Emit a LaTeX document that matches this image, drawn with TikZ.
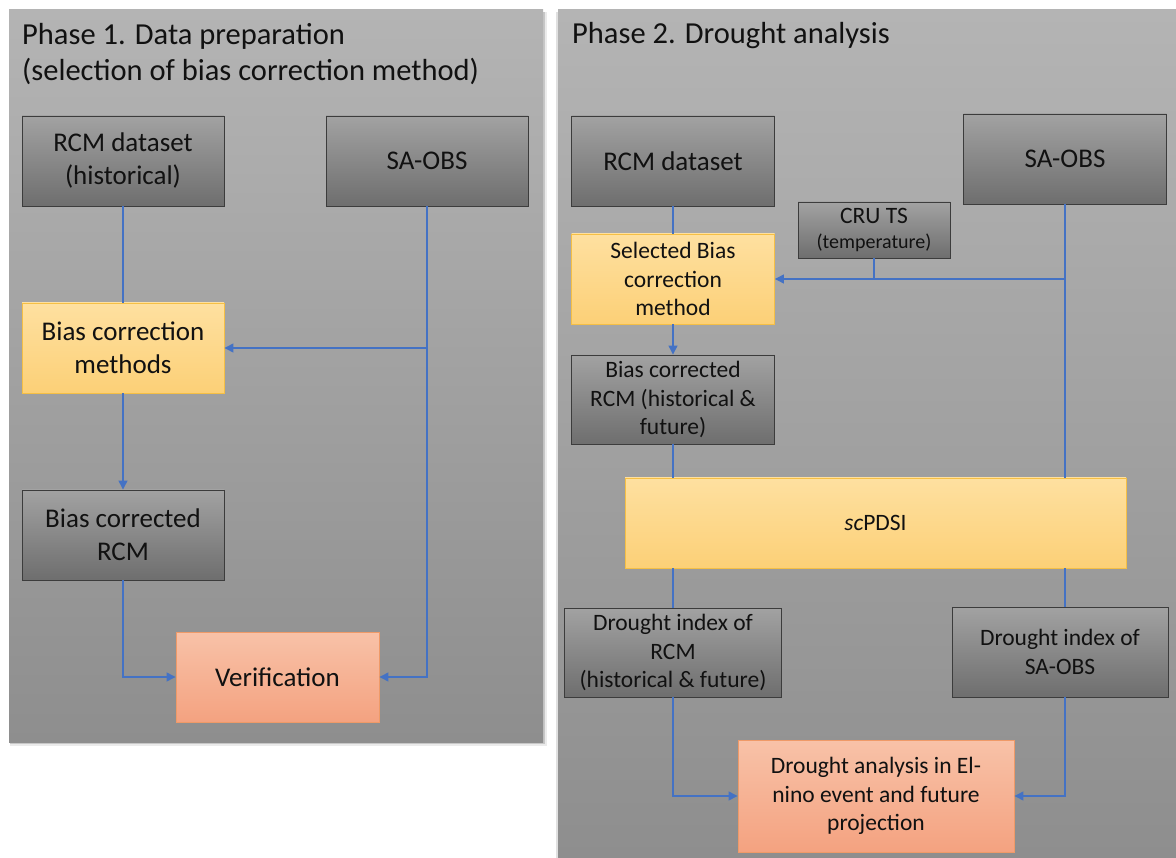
\documentclass[tikz,border=0pt]{standalone}
\usepackage{fontspec}
\setmainfont{Carlito}
\usetikzlibrary{arrows.meta}
\definecolor{gtop}{HTML}{A2A2A2}
\definecolor{gbot}{HTML}{6E6E6E}
\definecolor{gedge}{HTML}{3C3C3C}
\definecolor{ytop}{HTML}{FEE0A0}
\definecolor{ybot}{HTML}{FCD077}
\definecolor{yedge}{HTML}{F5BF45}
\definecolor{otop}{HTML}{F8C2A8}
\definecolor{obot}{HTML}{F4A280}
\definecolor{oedge}{HTML}{EF9A68}
\definecolor{ptop}{HTML}{B4B4B4}
\definecolor{pbot}{HTML}{8E8E8E}
\definecolor{lnblue}{HTML}{4472C4}
\definecolor{txt}{HTML}{111111}
\tikzset{
  box/.style={line width=0.9pt, align=center, inner sep=0pt, text=txt},
  gbox/.style={box, draw=gedge, top color=gtop, bottom color=gbot},
  ybox/.style={box, draw=yedge, top color=ytop, bottom color=ybot},
  obox/.style={box, draw=oedge, top color=otop, bottom color=obot},
  big/.style={font=\fontsize{27}{33}\selectfont},
  mid/.style={font=\fontsize{23.5}{28.5}\selectfont},
  ttl/.style={anchor=base west, text=txt, font=\fontsize{30.5}{36}\selectfont, inner sep=0pt},
  ln/.style={draw=lnblue, line width=1.3pt},
  arr/.style={ln, -{Triangle[length=9pt,width=9pt]}},
  panel/.style={top color=ptop, bottom color=pbot, draw=none},
}
\begin{document}
\begin{tikzpicture}[x=1pt,y=-1pt]
\useasboundingbox (0,0) rectangle (1176,858);
\fill[white] (0,0) rectangle (1176,858);
% panels
\fill[black,opacity=0.08] (10,12) rectangle (547,746);
\fill[black,opacity=0.15] (10,12) rectangle (545,744);
\fill[black,opacity=0.12] (556,12) rectangle (1176,858);
\path[panel] (9,10) rectangle (543,742);
\path[panel] (558,10) rectangle (1176,858);
\node[ttl] (t1a) at (22,45) {Phase 1. Data preparation};
\node[ttl] (t1b) at (22,81) {(selection of bias correction method)};
\node[ttl] (t2) at (572,44) {Phase 2. Drought analysis};
% panel 1 boxes
\node[gbox,big,minimum width=202pt,minimum height=90pt] (rcm1) at (123,161) {RCM dataset\\(historical)};
\node[gbox,big,minimum width=202pt,minimum height=90pt] (sa1) at (427,161) {SA-OBS};
\node[ybox,big,minimum width=202pt,minimum height=90pt] (bcm) at (123,348) {Bias correction\\methods};
\node[gbox,big,minimum width=202pt,minimum height=90pt] (bcr) at (123,535) {Bias corrected\\RCM};
\node[obox,big,minimum width=203pt,minimum height=90pt] (ver) at (277.5,677) {Verification};
% panel 1 connectors
\draw[ln] (rcm1.south) -- (bcm.north);
\draw[arr] (bcm.south) -- (bcr.north);
\draw[arr] (sa1.south) |- (ver.east);
\draw[arr] (sa1.south |- bcm.east) -- (bcm.east);
\draw[arr] (bcr.south) |- (ver.west);
% panel 2 boxes
\node[gbox,big,minimum width=203pt,minimum height=90pt] (rcm2) at (673,161) {RCM dataset};
\node[gbox,big,minimum width=203pt,minimum height=90pt] (sa2) at (1065,159) {SA-OBS};
\node[gbox,font=\fontsize{20}{25}\selectfont,minimum width=152pt,minimum height=56pt] (cru) at (874,230) {{\fontsize{23.5}{25}\selectfont CRU TS}\\(temperature)};
\node[ybox,mid,minimum width=203pt,minimum height=90pt] (sel) at (673,279) {Selected Bias\\correction\\method};
\node[gbox,mid,minimum width=203pt,minimum height=89pt] (bc2) at (673,399.5) {Bias corrected\\RCM (historical \&\\future)};
\node[ybox,mid,minimum width=501pt,minimum height=90pt] (sc) at (875.5,523) {\textit{sc}PDSI};
\node[gbox,mid,minimum width=217pt,minimum height=89pt] (di1) at (673,652.5) {Drought index of\\RCM\\(historical \& future)};
\node[gbox,mid,minimum width=216pt,minimum height=90pt] (di2) at (1060,652) {Drought index of\\SA-OBS};
\node[obox,mid,minimum width=276pt,minimum height=112pt] (da) at (876,796) {Drought analysis in El-\\nino event and future\\projection};
% panel 2 connectors
\draw[ln] (rcm2.south) -- (sel.north);
\draw[arr] (sa2.south) |- (sel.east);
\draw[ln] (sa2.south) -- (sa2.south |- sc.north);
\draw[ln] (cru.south) -- (cru.south |- sel.east);
\draw[arr] (sel.south) -- (bc2.north);
\draw[ln] (bc2.south) -- (bc2.south |- sc.north);
\draw[ln] (bc2.south |- sc.south) -- (di1.north);
\draw[ln] (sa2.south |- sc.south) -- (sa2.south |- di2.north);
\draw[arr] (di1.south) |- (da.west);
\draw[arr] (sa2.south |- di2.south) |- (da.east);
\end{tikzpicture}
\end{document}
